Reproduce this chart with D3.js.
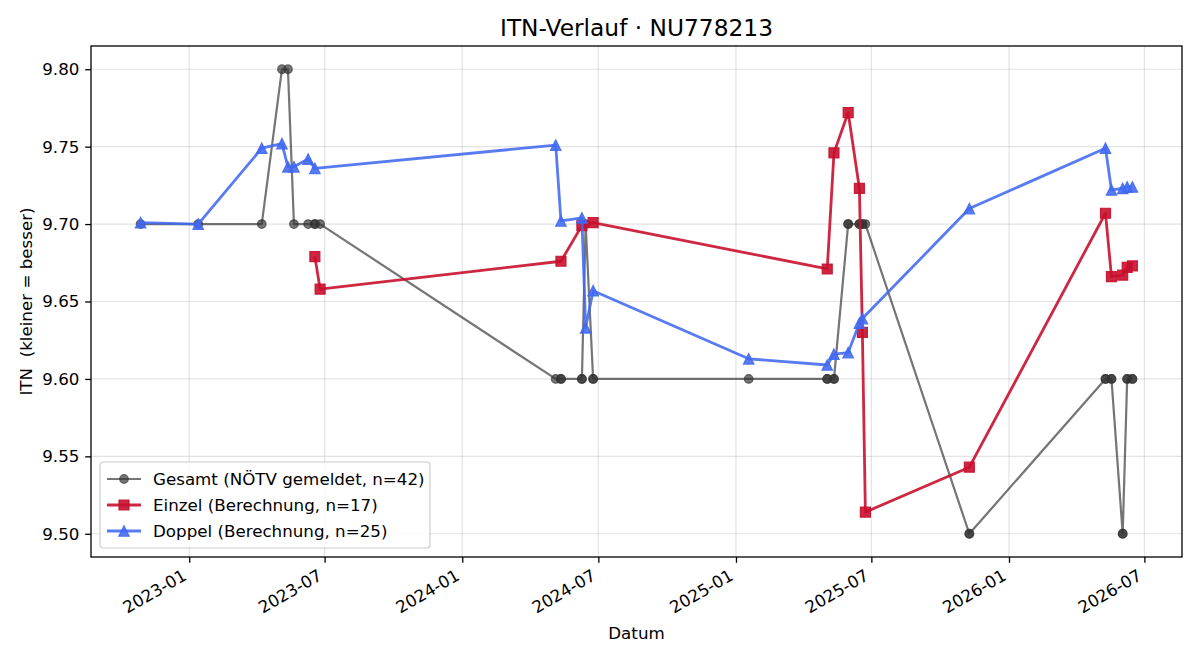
<!DOCTYPE html>
<html>
<head>
<meta charset="utf-8">
<script src="https://cdn.jsdelivr.net/npm/d3@7"></script>
<style>
  body { margin: 0; background: #fff; }
  text { font-family: "DejaVu Sans", sans-serif; fill: #000; }
</style>
</head>
<body>
<svg id="chart" width="1200" height="660"></svg>
<script>
// Gesamt (NÖTV gemeldet) – one entry per match
var gesamtDates = ["2022-10-28","2023-01-13","2023-04-08","2023-05-05","2023-05-13","2023-05-21","2023-06-09","2023-06-18","2023-06-18","2023-06-25",
    "2024-05-05","2024-05-12","2024-05-12","2024-06-09","2024-06-09","2024-06-14","2024-06-24","2024-06-24",
    "2025-01-18","2025-05-03","2025-05-03","2025-05-12","2025-05-12","2025-05-31","2025-05-31","2025-06-15","2025-06-15","2025-06-19","2025-06-19","2025-06-23",
    "2025-11-09","2025-11-09","2026-05-10","2026-05-10","2026-05-18","2026-05-18","2026-06-02","2026-06-02","2026-06-08","2026-06-08","2026-06-15","2026-06-15"];
var gesamtValues = [9.70,9.70,9.70,9.80,9.80,9.70,9.70,9.70,9.70,9.70,
    9.60,9.60,9.60,9.60,9.60,9.70,9.60,9.60,
    9.60,9.60,9.60,9.60,9.60,9.70,9.70,9.70,9.70,9.70,9.70,9.70,
    9.50,9.50,9.60,9.60,9.60,9.60,9.50,9.50,9.60,9.60,9.60,9.60];

// Einzel (Berechnung)
var einzelDates = ["2023-06-18","2023-06-25","2024-05-12","2024-06-09","2024-06-24","2025-05-03","2025-05-12","2025-05-31","2025-06-15","2025-06-19","2025-06-23",
    "2025-11-09","2026-05-10","2026-05-18","2026-06-02","2026-06-08","2026-06-15"];
var einzelValues = [9.679,9.658,9.676,9.699,9.701,9.671,9.746,9.772,9.723,9.630,9.514,
    9.543,9.707,9.666,9.667,9.672,9.673];

// Doppel (Berechnung)
var doppelDates = ["2022-10-28","2023-01-13","2023-04-08","2023-05-05","2023-05-13","2023-05-21","2023-06-09","2023-06-18",
    "2024-05-05","2024-05-12","2024-06-09","2024-06-14","2024-06-24","2025-01-18","2025-05-03","2025-05-12","2025-05-31","2025-06-15","2025-06-19",
    "2025-11-09","2026-05-10","2026-05-18","2026-06-02","2026-06-08","2026-06-15"];
var doppelValues = [9.701,9.700,9.749,9.752,9.737,9.737,9.742,9.736,
    9.751,9.702,9.704,9.633,9.657,9.613,9.609,9.616,9.617,9.636,9.639,
    9.710,9.749,9.722,9.723,9.724,9.724];

var yTicks = [9.50, 9.55, 9.60, 9.65, 9.70, 9.75, 9.80];
var xTickDates = ["2023-01","2023-07","2024-01","2024-07","2025-01","2025-07","2026-01","2026-07"];

drawChart();

function drawChart() {
    var parseDay = d3.timeParse("%Y-%m-%d");
    var parseMonth = d3.timeParse("%Y-%m");

    function zip(dates, values) {
        return dates.map(function (d, i) { return { date: parseDay(d), value: values[i] }; });
    }

    var series = [
        { label: "Gesamt (NÖTV gemeldet, n=42)", data: zip(gesamtDates, gesamtValues), color: "#333333", opacity: 0.68, width: 2.2, marker: "circle", size: 8.6 },
        { label: "Einzel (Berechnung, n=17)", data: zip(einzelDates, einzelValues), color: "#c8102e", opacity: 0.9, width: 2.8, marker: "square", size: 10 },
        { label: "Doppel (Berechnung, n=25)", data: zip(doppelDates, doppelValues), color: "#4169f0", opacity: 0.88, width: 2.8, marker: "triangle", size: 10.5 }
    ];

    var mLeft = 91, mRight = 1182, mTop = 46, mBottom = 557;
    var fs = "16.7px";
    var svg = d3.select("#chart");

    // matplotlib-style 5% margins
    var allDates = [].concat(series[0].data, series[1].data, series[2].data).map(function (d) { return d.date; });
    var xmin = d3.min(allDates), xmax = d3.max(allDates);
    var xpad = (xmax - xmin) * 0.05;
    var x = d3.scaleTime().domain([new Date(+xmin - xpad), new Date(+xmax + xpad)]).range([mLeft, mRight]);
    var y = d3.scaleLinear().domain([9.485, 9.815]).range([mBottom, mTop]);

    // grid
    var grid = svg.append("g");
    grid.selectAll("line.gx").data(xTickDates).enter().append("line")
        .attr("x1", function (d) { return x(parseMonth(d)); }).attr("x2", function (d) { return x(parseMonth(d)); })
        .attr("y1", mTop).attr("y2", mBottom)
        .style("stroke", "#b0b0b0").style("stroke-opacity", 0.35).style("stroke-width", 1.2);
    grid.selectAll("line.gy").data(yTicks).enter().append("line")
        .attr("x1", mLeft).attr("x2", mRight)
        .attr("y1", function (d) { return y(d); }).attr("y2", function (d) { return y(d); })
        .style("stroke", "#b0b0b0").style("stroke-opacity", 0.35).style("stroke-width", 1.2);

    function markerPath(type, s) {
        var h = s / 2;
        if (type === "square") return "M" + (-h) + "," + (-h) + "h" + s + "v" + s + "h" + (-s) + "Z";
        if (type === "triangle") return "M0," + (-h) + "L" + h + "," + h + "L" + (-h) + "," + h + "Z";
        return d3.arc()({ innerRadius: 0, outerRadius: h, startAngle: 0, endAngle: 2 * Math.PI });
    }

    var line = d3.line().x(function (d) { return x(d.date); }).y(function (d) { return y(d.value); });

    series.forEach(function (s) {
        var g = svg.append("g");
        g.append("path").datum(s.data).attr("d", line)
            .style("fill", "none").style("stroke", s.color).style("stroke-opacity", s.opacity)
            .style("stroke-width", s.width).style("stroke-linejoin", "round");
        g.selectAll("path.m").data(s.data).enter().append("path").attr("class", "m")
            .attr("d", markerPath(s.marker, s.size))
            .attr("transform", function (d) { return "translate(" + x(d.date) + "," + y(d.value) + ")"; })
            .style("fill", s.color).style("fill-opacity", s.opacity)
            .style("stroke", s.color).style("stroke-opacity", s.opacity).style("stroke-width", 1.2);
    });

    // frame
    svg.append("rect").attr("x", mLeft).attr("y", mTop).attr("width", mRight - mLeft).attr("height", mBottom - mTop)
        .style("fill", "none").style("stroke", "#000").style("stroke-width", 1.3);

    // axes
    var yAxis = svg.append("g").attr("transform", "translate(" + mLeft + ",0)")
        .call(d3.axisLeft(y).tickValues(yTicks).tickFormat(d3.format(".2f")).tickSize(5.8).tickPadding(5.8));
    yAxis.select(".domain").remove();
    yAxis.selectAll("text").style("font-size", fs).style("font-family", "DejaVu Sans");
    yAxis.selectAll("line").style("stroke-width", 1.3);

    var xAxis = svg.append("g").attr("transform", "translate(0," + mBottom + ")")
        .call(d3.axisBottom(x).tickValues(xTickDates.map(parseMonth)).tickFormat(d3.timeFormat("%Y-%m")).tickSize(5.8));
    xAxis.select(".domain").remove();
    xAxis.selectAll("line").style("stroke-width", 1.3);
    xAxis.selectAll("text")
        .style("font-size", fs).style("font-family", "DejaVu Sans")
        .attr("text-anchor", "end").attr("dy", null).attr("y", null)
        .attr("transform", "translate(-2,22) rotate(-30)");

    // labels
    svg.append("text").attr("x", (mLeft + mRight) / 2).attr("y", 36).attr("text-anchor", "middle")
        .style("font-size", "23.3px").text("ITN-Verlauf · NU778213");
    svg.append("text").attr("x", (mLeft + mRight) / 2).attr("y", 639).attr("text-anchor", "middle")
        .style("font-size", fs).text("Datum");
    svg.append("text").attr("transform", "translate(32," + (mTop + mBottom) / 2 + ") rotate(-90)").attr("text-anchor", "middle")
        .style("font-size", fs).style("white-space", "pre").text("ITN  (kleiner = besser)");

    // legend
    var lg = svg.append("g").attr("transform", "translate(100,462)");
    lg.append("rect").attr("width", 330).attr("height", 86).attr("rx", 3)
        .style("fill", "#fff").style("fill-opacity", 0.8).style("stroke", "#cccccc").style("stroke-width", 1.2);
    series.forEach(function (s, i) {
        var cy = 17 + i * 26;
        lg.append("line").attr("x1", 7).attr("x2", 41).attr("y1", cy).attr("y2", cy)
            .style("stroke", s.color).style("stroke-opacity", s.opacity).style("stroke-width", s.width);
        lg.append("path").attr("d", markerPath(s.marker, s.size)).attr("transform", "translate(24," + cy + ")")
            .style("fill", s.color).style("fill-opacity", s.opacity)
            .style("stroke", s.color).style("stroke-opacity", s.opacity).style("stroke-width", 1.2);
        lg.append("text").attr("x", 53).attr("y", cy + 6).style("font-size", fs).text(s.label);
    });
}
</script>
</body>
</html>
